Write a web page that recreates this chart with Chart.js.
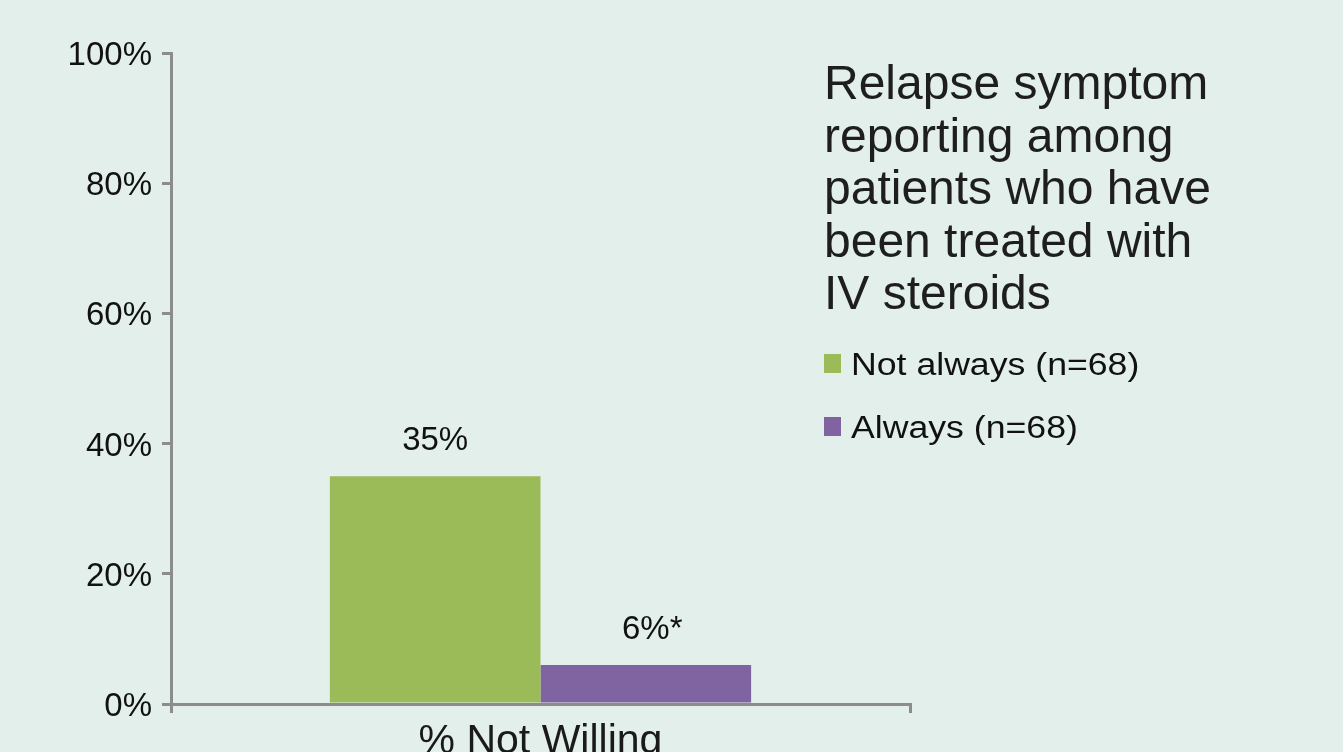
<!DOCTYPE html>
<html>
<head>
<meta charset="utf-8">
<title>Relapse symptom reporting</title>
<script src="https://cdn.jsdelivr.net/npm/chart.js@4/dist/chart.umd.min.js"></script>
<style>
  html, body { margin: 0; padding: 0; background: #e2efeb; overflow: hidden; }
  canvas { display: block; }
</style>
</head>
<body>
<canvas id="myChart" width="1343" height="752"></canvas>
<script>
// chart values
let categories = ['% Not Willing'];
let seriesNames = ['Not always (n=68)', 'Always (n=68)'];
let seriesColors = ['#9bbb59', '#8064a2'];
let notAlways = [35];
let always = [6];
let valueSuffix = ['', '*'];
let titleLines = ['Relapse symptom', 'reporting among', 'patients who have', 'been treated with', 'IV steroids'];
let yMin = 0, yMax = 100, yStep = 20;

const fontFamily = '"Liberation Sans", Arial, Helvetica, sans-serif';
const axisGrey = '#8c8c8c';

// bar value labels, the asterisk sits after the centred number
const valueLabels = {
    id: 'valueLabels',
    afterDatasetsDraw(chart) {
        let ctx = chart.ctx;
        ctx.save();
        ctx.font = '33px ' + fontFamily;
        ctx.fillStyle = '#111';
        ctx.textBaseline = 'alphabetic';
        chart.data.datasets.forEach((ds, i) => {
            let meta = chart.getDatasetMeta(i);
            meta.data.forEach((bar, j) => {
                let txt = ds.data[j] + '%';
                let w = ctx.measureText(txt).width;
                let x = bar.x - w / 2;
                let y = bar.y - 26;
                ctx.textAlign = 'left';
                ctx.fillText(txt, x, y);
                if (valueSuffix[i]) ctx.fillText(valueSuffix[i], x + w, y);
            });
        });
        ctx.restore();
    }
};

// title block and legend on the right of the plot
const sidePanel = {
    id: 'sidePanel',
    afterDraw(chart) {
        let ctx = chart.ctx;
        let left = chart.chartArea.right - 86;
        ctx.save();
        ctx.fillStyle = '#1e1e1e';
        ctx.textAlign = 'left';
        ctx.textBaseline = 'alphabetic';
        ctx.font = '48px ' + fontFamily;
        titleLines.forEach((line, i) => {
            ctx.fillText(line, left, 99 + i * 52.5);
        });

        ctx.font = '31px ' + fontFamily;
        chart.data.datasets.forEach((ds, i) => {
            let top = 354 + i * 63;
            ctx.fillStyle = ds.backgroundColor;
            ctx.fillRect(left, top, 17, 19);
            ctx.fillStyle = '#111';
            ctx.save();
            ctx.translate(left + 27, top + 21);
            ctx.scale(1.15, 1);
            ctx.fillText(ds.label, 0, 0);
            ctx.restore();
        });
        ctx.restore();
    }
};

let chart = new Chart('myChart', {
    type: 'bar',
    data: {
        labels: categories,
        datasets: [{
            label: seriesNames[0],
            data: notAlways,
            backgroundColor: seriesColors[0]
        }, {
            label: seriesNames[1],
            data: always,
            backgroundColor: seriesColors[1]
        }]
    },
    options: {
        responsive: false,
        animation: false,
        categoryPercentage: 0.57,
        barPercentage: 1.0,
        layout: {
            padding: { top: 53, right: 433, left: 0, bottom: 0 }
        },
        plugins: {
            legend: { display: false },
            title: { display: false },
            tooltip: { enabled: false }
        },
        scales: {
            x: {
                grid: {
                    offset: true,
                    drawOnChartArea: false,
                    drawTicks: true,
                    tickLength: 9,
                    color: axisGrey,
                    lineWidth: 3
                },
                border: { color: axisGrey, width: 3 },
                ticks: {
                    color: '#1a1a1a',
                    padding: 4,
                    font: { family: fontFamily, size: 41 }
                },
                afterFit(scale) { scale.height = 48; }
            },
            y: {
                min: yMin,
                max: yMax,
                grid: {
                    drawOnChartArea: false,
                    drawTicks: true,
                    tickLength: 9,
                    color: axisGrey,
                    lineWidth: 3
                },
                border: { color: axisGrey, width: 3 },
                ticks: {
                    stepSize: yStep,
                    color: '#111',
                    padding: 10,
                    labelOffset: 3,
                    font: { family: fontFamily, size: 33 },
                    callback: v => v + '%'
                },
                afterFit(scale) { scale.width = 171; }
            }
        }
    },
    plugins: [valueLabels, sidePanel]
});
</script>
</body>
</html>
